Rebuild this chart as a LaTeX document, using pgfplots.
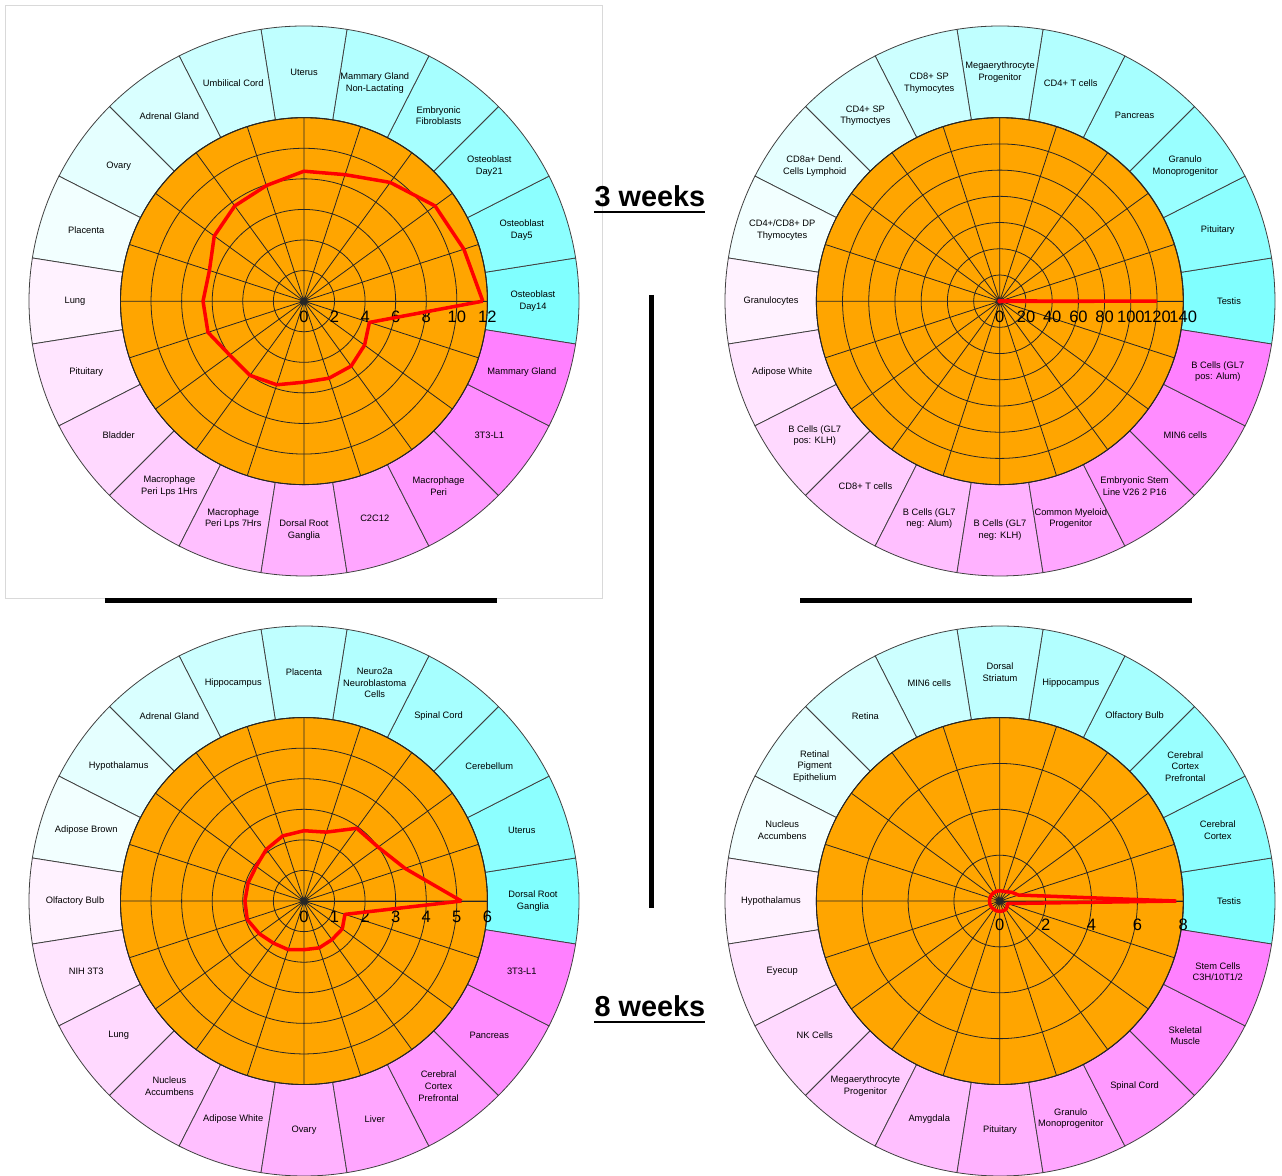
\documentclass[border=0pt]{standalone}
\usepackage{pgfplots}
\pgfplotsset{compat=1.18}
\usepgfplotslibrary{polar}
\usepackage{fontspec}
\setmainfont{Liberation Sans}
\definecolor{orangec}{RGB}{255,165,0}
\definecolor{cy}{RGB}{0,255,255}
\definecolor{mg}{RGB}{255,0,255}
\newcommand\lbl{\fontsize{5.3}{6.6}\selectfont}

\pgfplotsset{
  ring/.style={
    scale only axis, width=7.34cm, height=7.34cm, anchor=center,
    ymin=0, clip=false,
    xtick={0,18,...,342}, xticklabels={},
    grid=major, major grid style={black!85, line width=0.45pt},
    major tick length=0pt,
    axis line style={black!85, line width=0.5pt},
    /pgf/number format/assume math mode=true,
    yticklabel style={font=\fontsize{9.4}{10}\selectfont, anchor=north, yshift=-5.5pt, inner sep=0pt},
  },
  data/.style={red, line width=2pt, line join=round},
}

\newcommand\drawring[3]{%
  \begin{scope}[shift={(#1,#2)}]
  \foreach \t [count=\i from 0] in {#3} {
    \pgfmathsetmacro\a{18*\i}
    \pgfmathtruncatemacro\p{\i<10 ? 50-5*\i : 5*(\i-9)}
    \ifnum\i<10 \def\cc{cy}\else\def\cc{mg}\fi
    \filldraw[fill=\cc!\p!white, draw=black!75, line width=0.45pt]
      (\a-9:183.5) arc[start angle=\a-9, end angle=\a+9, radius=183.5]
      -- (\a+9:275) arc[start angle=\a+9, end angle=\a-9, radius=275] -- cycle;
    \node[align=center, font=\lbl, inner sep=0pt] at (\a:229) {\t};
  }
  \fill[orangec] (0,0) circle[radius=183.5];
  \end{scope}}

\begin{document}
\begin{tikzpicture}[x=0.02cm, y=0.02cm]
\useasboundingbox (0,0) rectangle (1282,1176);
\fill[white] (0,0) rectangle (1282,1176);
\draw[black!15, line width=0.5pt] (5,578) rectangle (602,1171);

\drawring{304}{875}{{Osteoblast\\Day14},{Osteoblast\\Day5},{Osteoblast\\Day21},{Embryonic\\Fibroblasts},{Mammary Gland\\Non-Lactating},{Uterus},{Umbilical Cord},{Adrenal Gland},{Ovary},{Placenta},{Lung},{Pituitary},{Bladder},{Macrophage\\Peri Lps 1Hrs},{Macrophage\\Peri Lps 7Hrs},{Dorsal Root\\Ganglia},{C2C12},{Macrophage\\Peri},{3T3-L1},{Mammary Gland}}

\drawring{1000}{875}{{Testis},{Pituitary},{Granulo\\Monoprogenitor},{Pancreas},{CD4+ T cells},{Megaerythrocyte\\Progenitor},{CD8+ SP\\Thymocytes},{CD4+ SP\\Thymoctyes},{CD8a+ Dend.\\Cells Lymphoid},{CD4+/CD8+ DP\\Thymocytes},{Granulocytes},{Adipose White},{B Cells (GL7\\pos: KLH)},{CD8+ T cells},{B Cells (GL7\\neg: Alum)},{B Cells (GL7\\neg: KLH)},{Common Myeloid\\Progenitor},{Embryonic Stem\\Line V26 2 P16},{MIN6 cells},{B Cells (GL7\\pos: Alum)}}

\drawring{304}{275}{{Dorsal Root\\Ganglia},{Uterus},{Cerebellum},{Spinal Cord},{Neuro2a\\Neuroblastoma\\Cells},{Placenta},{Hippocampus},{Adrenal Gland},{Hypothalamus},{Adipose Brown},{Olfactory Bulb},{NIH 3T3},{Lung},{Nucleus\\Accumbens},{Adipose White},{Ovary},{Liver},{Cerebral\\Cortex\\Prefrontal},{Pancreas},{3T3-L1}}

\drawring{1000}{275}{{Testis},{Cerebral\\Cortex},{Cerebral\\Cortex\\Prefrontal},{Olfactory Bulb},{Hippocampus},{Dorsal\\Striatum},{MIN6 cells},{Retina},{Retinal\\Pigment\\Epithelium},{Nucleus\\Accumbens},{Hypothalamus},{Eyecup},{NK Cells},{Megaerythrocyte\\Progenitor},{Amygdala},{Pituitary},{Granulo\\Monoprogenitor},{Spinal Cord},{Skeletal\\Muscle},{Stem Cells\\C3H/10T1/2}}

% separators and titles
\draw[black, line width=0.1cm] (105,575) -- (497,575);
\draw[black, line width=0.1cm] (800,575) -- (1192,575);
\draw[black, line width=0.1cm] (651,881) -- (651,268);
\node[font=\fontsize{16.4}{18}\selectfont\bfseries] at (650,980) {3 weeks};
\draw[black, line width=1.4pt] (594,964) -- (705,964);
\node[font=\fontsize{16.4}{18}\selectfont\bfseries] at (650,170) {8 weeks};
\draw[black, line width=1.4pt] (594,154) -- (705,154);

% top left: 3 weeks
\begin{polaraxis}[ring, at={(6.08cm,17.5cm)}, ymax=12, ytick={0,2,...,12}]
\addplot[data] coordinates {(0,11.7)(18,11.0)(36,10.6)(54,9.6)(72,8.7)(90,8.5)(108,7.95)(126,7.7)(144,7.25)(162,6.5)(180,6.6)(198,6.6)(216,6.0)(234,6.0)(252,5.75)(270,5.3)(288,5.3)(306,5.25)(324,4.9)(342,4.5)(360,11.7)};
\end{polaraxis}

% top right: 3 weeks
\begin{polaraxis}[ring, at={(20cm,17.5cm)}, ymax=140, ytick={0,20,...,140}]
\addplot[data] coordinates {(0,120)(18,0.5)(36,0.5)(54,0.5)(72,0.5)(90,0.5)(108,0.5)(126,0.5)(144,0.5)(162,0.5)(180,0.5)(198,0.5)(216,0.5)(234,0.5)(252,0.5)(270,0.5)(288,0.5)(306,0.5)(324,0.5)(342,0.5)(360,120)};
\end{polaraxis}

% bottom left: 8 weeks
\begin{polaraxis}[ring, at={(6.08cm,5.5cm)}, ymax=6, ytick={0,1,...,6}]
\addplot[data] coordinates {(0,5.15)(18,3.47)(36,3.0)(54,2.94)(72,2.37)(90,2.3)(108,2.24)(126,2.09)(144,1.93)(162,1.92)(180,1.93)(198,1.95)(216,1.81)(234,1.7)(252,1.67)(270,1.59)(288,1.61)(306,1.56)(324,1.55)(342,1.41)(360,5.15)};
\end{polaraxis}

% bottom right: 8 weeks
\begin{polaraxis}[ring, at={(20cm,5.5cm)}, ymax=8, ytick={0,2,...,8},
  yticklabel style={yshift=-4.5pt}]
\addplot[data] coordinates {(0,7.7)(18,0.85)(36,0.65)(54,0.5)(72,0.45)(90,0.45)(108,0.45)(126,0.45)(144,0.45)(162,0.45)(180,0.45)(198,0.45)(216,0.45)(234,0.45)(252,0.45)(270,0.45)(288,0.45)(306,0.45)(324,0.4)(342,0.35)(360,7.7)};
\end{polaraxis}
\end{tikzpicture}
\end{document}
